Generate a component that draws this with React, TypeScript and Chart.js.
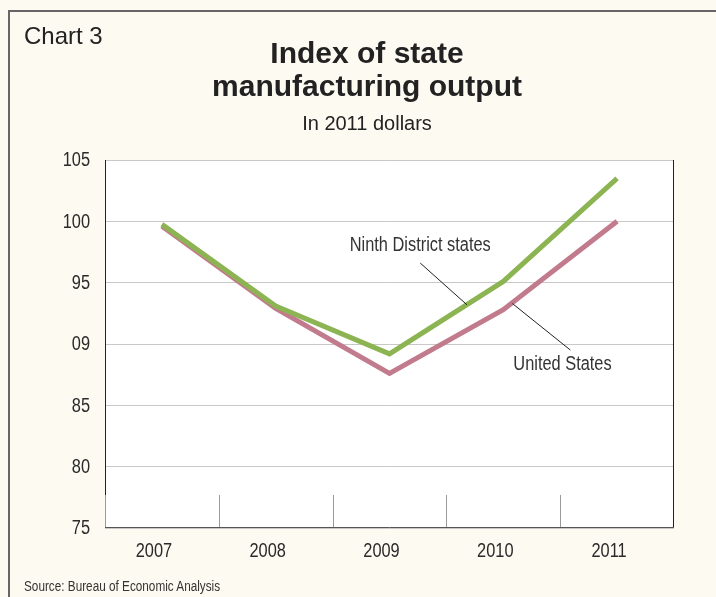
import React, { useEffect, useRef } from "react";
import { Chart, registerables } from "chart.js";
Chart.register(...registerables);

const years = ["2007", "2008", "2009", "2010", "2011"];
const ninthDistrict = [99.75, 93.1, 89.2, 95.1, 103.5];
const unitedStates = [99.6, 92.9, 87.6, 92.8, 100.0];
const yMin = 75;
const yMax = 105;
const yStep = 5;
const yTickLabels: Record<number, string> = { 75: "75", 80: "80", 85: "85", 90: "09", 95: "95", 100: "100", 105: "105" };

const SANS = "'Liberation Sans', Arial, sans-serif";
const SQUEEZE = 0.84;

// annotation anchors in data space (category index, value)
const notes = [
  { text: "Ninth District states", tx: 2.27, ty: 98.0, x1: 2.27, y1: 96.6, x2: 2.68, y2: 93.2 },
  { text: "United States", tx: 3.52, ty: 88.3, x1: 3.08, y1: 93.3, x2: 3.59, y2: 89.5 },
];

function squeezedText(ctx: any, text: string, x: number, y: number) {
  ctx.save();
  ctx.translate(x, y);
  ctx.scale(SQUEEZE, 1);
  ctx.fillText(text, 0, 0);
  ctx.restore();
}

const framePlugin = {
  id: "frame",
  beforeDraw(chart: any) {
    const { ctx, chartArea: a } = chart;
    ctx.save();
    ctx.fillStyle = "#ffffff";
    ctx.fillRect(a.left, a.top, a.right - a.left, a.bottom - a.top);
    ctx.restore();
  },
  afterDatasetsDraw(chart: any) {
    const { ctx, chartArea: a } = chart;
    const xs = chart.scales.x;
    const ys = chart.scales.y;
    const tickTop = a.bottom - 33;
    ctx.save();
    ctx.lineWidth = 1;
    // separators
    ctx.strokeStyle = "#9a9a9a";
    ctx.beginPath();
    for (let i = 1; i < years.length; i++) {
      const x = Math.round((xs.getPixelForValue(i - 1) + xs.getPixelForValue(i)) / 2) + 0.5;
      ctx.moveTo(x, tickTop);
      ctx.lineTo(x, a.bottom);
    }
    ctx.moveTo(Math.round(a.left) + 0.5, tickTop);
    ctx.lineTo(Math.round(a.left) + 0.5, a.bottom);
    ctx.stroke();
    // left & right dark
    ctx.strokeStyle = "#222222";
    ctx.beginPath();
    ctx.moveTo(Math.round(a.left) + 0.5, a.top);
    ctx.lineTo(Math.round(a.left) + 0.5, tickTop);
    ctx.moveTo(Math.round(a.right) - 0.5, a.top);
    ctx.lineTo(Math.round(a.right) - 0.5, a.bottom);
    ctx.stroke();
    // bottom
    ctx.strokeStyle = "#555555";
    ctx.beginPath();
    ctx.moveTo(a.left, Math.round(a.bottom) - 0.5);
    ctx.lineTo(a.right, Math.round(a.bottom) - 0.5);
    ctx.stroke();

    ctx.fillStyle = "#2a2a2a";
    ctx.font = `19.5px ${SANS}`;
    // y tick labels
    ctx.textAlign = "right";
    ctx.textBaseline = "middle";
    ys.ticks.forEach((t: any) => {
      squeezedText(ctx, yTickLabels[t.value] ?? String(t.value), 90, ys.getPixelForValue(t.value) + 1);
    });
    // x tick labels
    ctx.textAlign = "center";
    ctx.textBaseline = "alphabetic";
    years.forEach((y, i) => {
      squeezedText(ctx, y, xs.getPixelForValue(i) - 8, a.bottom + 29);
    });

    // annotations
    ctx.fillStyle = "#333333";
    ctx.textAlign = "center";
    ctx.textBaseline = "middle";
    ctx.strokeStyle = "#222222";
    for (const n of notes) {
      squeezedText(ctx, n.text, xs.getPixelForValue(n.tx), ys.getPixelForValue(n.ty));
      ctx.beginPath();
      ctx.moveTo(xs.getPixelForValue(n.x1), ys.getPixelForValue(n.y1));
      ctx.lineTo(xs.getPixelForValue(n.x2), ys.getPixelForValue(n.y2));
      ctx.stroke();
    }
    ctx.restore();
  },
};

export default function App() {
  const ref = useRef<HTMLCanvasElement>(null);
  useEffect(() => {
    if (!ref.current) return;
    const chart = new Chart(ref.current, {
      type: "line",
      data: {
        labels: years,
        datasets: [
          { label: "Ninth District states", data: ninthDistrict, borderColor: "#8cb453", borderWidth: 5, pointRadius: 0, tension: 0, borderCapStyle: "butt", borderJoinStyle: "miter" },
          { label: "United States", data: unitedStates, borderColor: "#c27b8c", borderWidth: 5, pointRadius: 0, tension: 0, borderCapStyle: "butt", borderJoinStyle: "miter" },
        ],
      },
      options: {
        responsive: false,
        animation: false,
        devicePixelRatio: 1,
        layout: { padding: { left: 0, top: 160, right: 42, bottom: 0 } },
        plugins: { legend: { display: false }, tooltip: { enabled: false }, title: { display: false } },
        scales: {
          x: {
            offset: true,
            grid: { display: false, drawTicks: false },
            border: { display: false },
            ticks: { display: false },
            afterFit: (s: any) => { s.height = 69; },
          },
          y: {
            min: yMin,
            max: yMax,
            grid: { color: "#c8c8c8", lineWidth: 1, drawTicks: false },
            border: { display: false },
            ticks: { display: false, stepSize: yStep },
            afterFit: (s: any) => { s.width = 105; },
          },
        },
      },
      plugins: [framePlugin],
    } as any);
    return () => chart.destroy();
  }, []);

  return (
    <div style={{ position: "fixed", left: 0, top: 0, width: 716, height: 597, background: "#fdfaf2", overflow: "hidden" }}>
      <div style={{ position: "absolute", left: 8, top: 10, width: 720, height: 600, borderLeft: "2px solid #666", borderTop: "2px solid #666" }} />
      <canvas ref={ref} width={716} height={597} style={{ position: "absolute", left: 0, top: 0, width: 716, height: 597 }} />
      <div style={{ position: "absolute", left: 24, top: 22, font: `24px ${SANS}`, lineHeight: "28px", color: "#222", whiteSpace: "nowrap" }}>Chart 3</div>
      <div style={{ position: "absolute", left: 0, width: 734, top: 36, textAlign: "center", font: `bold 30px ${SANS}`, lineHeight: "33px", color: "#222" }}>
        Index of state<br />manufacturing output
      </div>
      <div style={{ position: "absolute", left: 0, width: 734, top: 111, textAlign: "center", font: `20px ${SANS}`, lineHeight: "24px", color: "#222" }}>In 2011 dollars</div>
      <div style={{ position: "absolute", left: 24, top: 578, font: `14px ${SANS}`, lineHeight: "16px", color: "#333", whiteSpace: "nowrap", transform: `scaleX(${SQUEEZE})`, transformOrigin: "left top" }}>Source: Bureau of Economic Analysis</div>
    </div>
  );
}
